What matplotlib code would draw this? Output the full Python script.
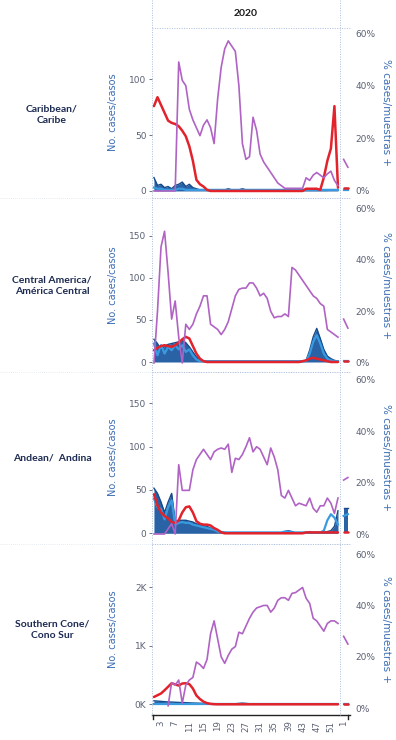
import numpy as np
import matplotlib.pyplot as plt
from matplotlib.lines import Line2D

nan = np.nan

# Epidemiological weeks shown on the x axis
weeks_2020 = list(range(1, 54))
weeks_2021 = [1, 2]
tick_weeks_2020 = [3, 7, 11, 15, 19, 23, 27, 31, 35, 39, 43, 47, 51]
tick_weeks_2021 = [1]

region_names = ["Caribbean/\nCaribe", "Central America/\nAmérica Central",
                "Andean/  Andina", "Southern Cone/\nCono Sur"]

# ---- Caribbean ----
carib_pct_2020 = [0, 0, 0, 0, 0, 0, 0, 49, 42, 40, 31, 27, 24, 21, 25, 27, 24, 18, 35, 47,
                  54, 57, 55, 53, 40, 18, 12, 13, 28, 23, 14, 11, 9, 7, 5, 3, 2, 1, 1, 1,
                  1, 1, 1, 5, 4, 6, 7, 6, 5, 6.5, 7.5, 4, 2]
carib_pct_2021 = [12, 9]
carib_red_2020 = [76, 84, 77, 70, 63, 61, 60, 58, 54, 49, 40, 27, 10, 6, 4, 1, 0, 0, 0, 0,
                  0, 0, 0, 0, 0, 0, 0, 0, 0, 0, 0, 0, 0, 0, 0, 0, 0, 0, 0, 0,
                  0, 0, 0, 2, 2, 2, 2, 1, 12, 27, 38, 76, 3]
carib_red_2021 = [3, 3]
carib_dark_2020 = [12, 5, 6, 3, 4, 2, 5, 6, 8, 4, 6, 3, 2, 1, 1, 1, 0.5, 0.5, 0.5, 0.5,
                   1, 2, 1, 1, 1, 2, 1, 0.5, 0.5, 0.5, 0.5, 0.5, 0.5, 0.5, 0.5, 0.5, 0.5, 0.5, 0.5, 0.5,
                   0.5, 0.5, 0.5, 0.5, 0.5, 0.5, 0.5, 0.5, 0.5, 0.5, 1, 1, 1]
carib_dark_2021 = [3, 3]
carib_light_2020 = [3, 2, 2, 1, 1, 1, 1, 2, 2, 1, 1, 1, 1, 1, 1, 1, 1, 1, 1, 1,
                    1, 1, 1, 1, 1, 1, 1, 1, 1, 1, 1, 1, 1, 1, 1, 1, 1, 1, 1, 1,
                    1, 1, 1, 1, 1, 1, 1, 1, 1, 1, 1, 1, 1]
carib_light_2021 = [1, 1]

# ---- Central America ----
ca_pct_2020 = [0, 20, 45, 51, 35, 17, 24, 10, 0, 15, 13, 15, 19, 22, 26, 26, 15, 14, 13, 11,
               13, 16, 21, 26, 28.5, 29, 29, 31, 31, 29, 26, 27, 25, 20, 17.5, 18, 18, 19, 18, 37,
               36, 34, 32, 30, 28, 26, 25, 23, 22, 13, 12, 11, 10]
ca_pct_2021 = [17, 13.5]
ca_red_2020 = [14, 17, 19, 20, 19, 18, 20, 23, 27, 30, 28, 19, 10, 4, 1, 0, 0, 0, 0, 0,
               0, 0, 0, 0, 0, 0, 0, 0, 0, 0, 0, 0, 0, 0, 0, 0, 0, 0, 0, 0,
               0, 0, 1, 2, 4, 5, 4, 3, 2, 1, 0, 0, 0]
ca_red_2021 = [1, 1]
ca_dark_2020 = [27, 22, 14, 19, 21, 22, 23, 24, 26, 23, 18, 12, 6, 2, 1, 1, 1, 1, 1, 1,
                1, 1, 1, 1, 1, 1, 1, 1, 1, 1, 1, 1, 1, 1, 1, 1, 1, 1, 1, 1,
                1, 1, 1, 2, 14, 30, 40, 28, 15, 7, 4, 2, 1]
ca_dark_2021 = [1, 1]
ca_light_2020 = [22, 8, 20, 10, 18, 14, 20, 15, 20, 12, 15, 8, 3, 1, 1, 1, 1, 1, 1, 1,
                 1, 1, 1, 1, 1, 1, 1, 1, 1, 1, 1, 1, 1, 1, 1, 1, 1, 1, 1, 1,
                 1, 1, 1, 1, 10, 24, 32, 22, 10, 4, 2, 1, 1]
ca_light_2021 = [1, 1]

# ---- Andean ----
and_pct_2020 = [0, 0, 0, 0, 2, 4, 0, 27, 17, 17, 17, 25, 29, 31, 33, 31, 29, 32, 33, 33.5,
                33, 35, 24, 29.5, 29, 31, 34, 37.5, 32, 34, 33, 30, 27, 33.5, 30, 25, 15, 14, 17, 14,
                11, 12, 11.5, 11, 14, 10, 8.5, 11, 11, 14, 12, 8, 14]
and_pct_2021 = [21, 22]
and_red_2020 = [45, 32, 24, 20, 17, 13, 12, 15, 24, 30, 31, 24, 14, 11, 10, 10, 9, 6, 4, 1,
                0, 0, 0, 0, 0, 0, 0, 0, 0, 0, 0, 0, 0, 0, 0, 0, 0, 0, 0, 0,
                0, 0, 0, 1, 1, 1, 1, 1, 1, 1, 1, 1, 1]
and_red_2021 = [1, 1]
and_dark_2020 = [52, 46, 36, 24, 36, 46, 14, 15, 15, 15, 14, 13, 11, 10, 9, 8, 6, 5, 3, 2,
                 1, 0.5, 0.5, 0.5, 0.5, 0.5, 0.5, 0.5, 0.5, 0.5, 0.5, 0.5, 0.5, 0.5, 0.5, 0.5, 0.5, 2, 3, 2,
                 0.5, 0.5, 0.5, 0.5, 2, 0.5, 0.5, 0.5, 1, 2, 3, 8, 26]
and_dark_2021 = [29, 29]
and_light_2020 = [40, 30, 28, 16, 30, 38, 10, 12, 13, 12, 12, 10, 9, 8, 7, 6, 5, 4, 2, 1,
                  1, 1, 1, 1, 1, 1, 1, 1, 1, 1, 1, 1, 1, 1, 1, 1, 1, 2, 2, 1,
                  1, 1, 1, 1, 1, 1, 1, 1, 3, 15, 22, 18, 10]
and_light_2021 = [20, 22]

# ---- Southern Cone ----
sc_pct_2020 = [nan, nan, nan, nan, 1, 10, 9, 11, 2, 9, 11, 12, 18, 17, 15.5, 19, 29, 34, 27, 20,
               17.5, 20.6, 23, 24, 29.6, 29, 32, 35, 37.4, 39, 39.5, 40, 40, 37.4, 39, 42, 43, 43, 42, 44.7,
               45, 46, 47, 42.8, 40.8, 35, 34, 32, 30, 33, 34, 34, 33]
sc_pct_2021 = [28, 25]
sc_red_2020 = [125, 155, 185, 240, 300, 360, 340, 320, 355, 360, 345, 270, 150, 90, 45, 20, 8, 2, 0, 0,
               0, 0, 0, 0, 0, 0, 0, 0, 0, 0, 0, 0, 0, 0, 0, 0, 0, 0, 0, 0,
               0, 0, 0, 0, 0, 0, 0, 0, 0, 0, 0, 0, 0]
sc_red_2021 = [0, 0]
sc_dark_2020 = [60, 55, 50, 45, 40, 38, 35, 32, 30, 28, 25, 22, 20, 18, 15, 12, 10, 10, 10, 10,
                10, 10, 10, 10, 15, 20, 15, 10, 10, 10, 10, 10, 10, 10, 10, 10, 10, 10, 10, 10,
                10, 10, 10, 10, 10, 10, 10, 10, 10, 10, 10, 10, 10]
sc_dark_2021 = [10, 10]
sc_light_2020 = [5] * 53
sc_light_2021 = [5, 5]

panels = [
    dict(pct=(carib_pct_2020, carib_pct_2021), red=(carib_red_2020, carib_red_2021),
         dark=(carib_dark_2020, carib_dark_2021), light=(carib_light_2020, carib_light_2021)),
    dict(pct=(ca_pct_2020, ca_pct_2021), red=(ca_red_2020, ca_red_2021),
         dark=(ca_dark_2020, ca_dark_2021), light=(ca_light_2020, ca_light_2021)),
    dict(pct=(and_pct_2020, and_pct_2021), red=(and_red_2020, and_red_2021),
         dark=(and_dark_2020, and_dark_2021), light=(and_light_2020, and_light_2021)),
    dict(pct=(sc_pct_2020, sc_pct_2021), red=(sc_red_2020, sc_red_2021),
         dark=(sc_dark_2020, sc_dark_2021), light=(sc_light_2020, sc_light_2021)),
]

# ---- layout (pixels on a 396 x 740 canvas) ----
W, H = 396, 740
X_LEFT, X_RIGHT, X_SPLIT = 152, 350, 340
panel_px = [(28, 197), (199, 371), (372, 543), (544, 715)]
left_lims = [(-5.4, 146), (-10.7, 194), (-11.2, 186), (-183, 2740)]
left_ticks = [[0, 50, 100], [0, 50, 100, 150], [0, 50, 100, 150], [0, 1000, 2000]]
left_ticklabels = [["0", "50", "100"], ["0", "50", "100", "150"],
                   ["0", "50", "100", "150"], ["0K", "1K", "2K"]]
right_lims = [(-2.3, 61.9), (-3.1, 63.5), (-3.5, 63.1), (-2.6, 63.9)]
region_label_y = [115, 286, 458, 630]

XLIM = (0.45, 56.4)


def x2021(w):
    return 54.6 + (np.asarray(w) - 1) * 1.2


C_PURPLE = "#b063c4"
C_RED = "#e2232b"
C_DARK = "#1d5aa0"
C_LIGHT = "#3a9ae0"
C_TICK = "#5b6173"
C_AXLABEL = "#3c6db3"
C_REGION = "#1d2b52"
C_GRID = "#a9bedb"

plt.rcParams['font.family'] = ['DejaVu Sans']

fig = plt.figure(figsize=(W / 100, H / 100), dpi=100)

for i, p in enumerate(panels):
    top, bot = panel_px[i]
    ax = fig.add_axes([X_LEFT / W, 1 - bot / H, (X_RIGHT - X_LEFT) / W, (bot - top) / H])
    ax2 = ax.twinx()
    ax.patch.set_visible(False)

    xs = [np.array(weeks_2020, float), x2021(weeks_2021)]
    for k in range(2):
        d = np.array(p['dark'][k], float)
        l = np.array(p['light'][k], float)
        r = np.array(p['red'][k], float)
        ax.fill_between(xs[k], 0, d, color=C_DARK, lw=0, alpha=0.95, zorder=2)
        ax.plot(xs[k], d, color="#174a8a", lw=1.0, zorder=3)
        ax.plot(xs[k], l, color=C_LIGHT, lw=1.6, zorder=4)
        ax.plot(xs[k], r, color=C_RED, lw=1.8, zorder=5, solid_capstyle='round')
        ax2.plot(xs[k], np.array(p['pct'][k], float), color=C_PURPLE, lw=1.2, zorder=3)

    ax.set_xlim(*XLIM)
    ax.set_ylim(*left_lims[i])
    ax2.set_ylim(*right_lims[i])
    ax.set_yticks(left_ticks[i])
    ax.set_yticklabels(left_ticklabels[i])
    ax2.set_yticks([0, 20, 40, 60])
    ax2.set_yticklabels(["0%", "20%", "40%", "60%"])
    ax.tick_params(axis='y', length=2.5, width=0.6, color=C_TICK, labelsize=6.5,
                   labelcolor=C_TICK, pad=1.5)
    ax2.tick_params(axis='y', length=0, labelsize=6.5, labelcolor=C_TICK, pad=4)
    for a in (ax, ax2):
        for s in a.spines.values():
            s.set_visible(False)

    ax.set_ylabel("No. cases/casos", fontsize=7, color=C_AXLABEL)
    ax.yaxis.set_label_coords((118 - X_LEFT) / (X_RIGHT - X_LEFT), 0.5)
    ax2.set_ylabel("% cases/muestras +", fontsize=7.5, color=C_AXLABEL, rotation=270,
                   va='center')
    ax2.yaxis.set_label_coords((386 - X_LEFT) / (X_RIGHT - X_LEFT), 0.5)

    if i == 3:
        tick_pos = list(tick_weeks_2020) + list(x2021(tick_weeks_2021))
        tick_lab = [str(w) for w in tick_weeks_2020] + [str(w) for w in tick_weeks_2021]
        ax.set_xticks(tick_pos)
        ax.set_xticklabels(tick_lab, rotation=90)
        ax.tick_params(axis='x', length=0, labelsize=6.2, labelcolor=C_TICK, pad=4)
        ax.spines['bottom'].set_visible(True)
        ax.spines['bottom'].set_color("#222222")
        ax.spines['bottom'].set_linewidth(1.0)
    else:
        ax.tick_params(axis='x', length=0, labelbottom=False)

    fig.text(52 / W, 1 - region_label_y[i] / H, region_names[i], ha='center', va='center',
             fontsize=7.5, fontweight='bold', color=C_REGION, family=['Lato', 'DejaVu Sans'],
             linespacing=1.3)

# pane borders
def fig_line(x0, y0, x1, y1, **kw):
    fig.add_artist(Line2D([x0 / W, x1 / W], [1 - y0 / H, 1 - y1 / H], **kw))

grid_kw = dict(color=C_GRID, lw=0.7, ls=(0, (1, 1.5)))
fig_line(X_LEFT, 0, X_LEFT, 715, **grid_kw)
fig_line(X_SPLIT, 0, X_SPLIT, 715, **grid_kw)
fig_line(X_LEFT, 28, X_RIGHT, 28, **grid_kw)
for yb in (198, 371.5, 543.5):
    fig_line(0, yb, X_RIGHT, yb, color="#dde5f0", lw=0.6, ls=(0, (1, 1.5)))
    fig_line(X_LEFT, yb, X_RIGHT, yb, **grid_kw)
# end caps of the week axis
fig_line(X_LEFT + 1, 715, X_LEFT + 1, 719, color="#222222", lw=1.0)
fig_line(X_RIGHT - 2, 715, X_RIGHT - 2, 719, color="#222222", lw=1.0)

fig.text((X_LEFT + X_SPLIT) / 2 / W, 1 - 14 / H, "2020", ha='center', va='center',
         fontsize=7.5, fontweight='bold', color="#1a1a1a", family=['Lato', 'DejaVu Sans'])

fig.savefig("out.png", dpi=100)
